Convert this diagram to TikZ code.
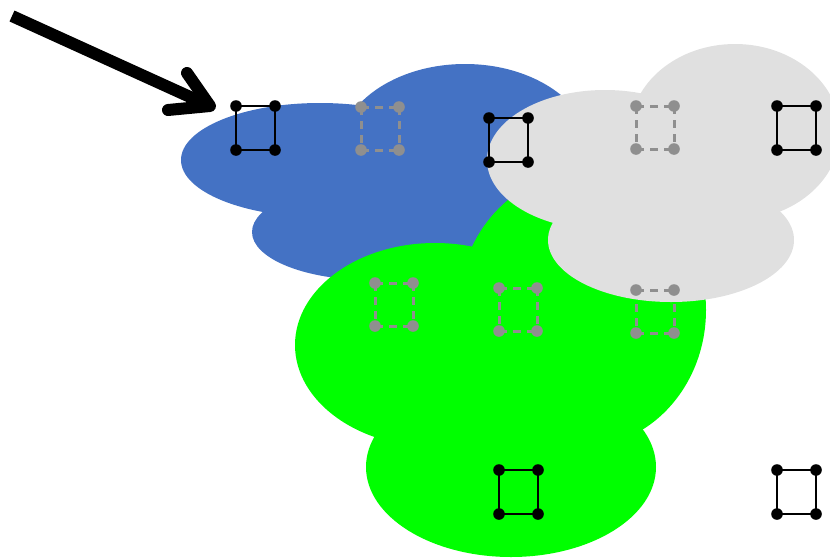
\documentclass[tikz,border=0pt]{standalone}
\usetikzlibrary{calc}
\definecolor{cblue}{HTML}{4472C4}
\definecolor{cgreen}{HTML}{00FF00}
\definecolor{cgray}{HTML}{E0E0E0}
\definecolor{dgray}{HTML}{8F8F8F}
\tikzset{
  bluecloud/.style={fill=cblue, draw=none},
  greencloud/.style={fill=cgreen, draw=none},
  graycloud/.style={fill=cgray, draw=none},
  solidedge/.style={draw=black, line width=2.9pt},
  dashedge/.style={draw=dgray, line width=3pt, dash pattern=on 8pt off 6pt},
  blkdot/.style={fill=black},
  grydot/.style={fill=dgray},
  blksq/.pic={
    \draw[solidedge] (0,0) -- (39,0) -- (39,44) -- (0,44) -- cycle;
    \foreach \p in {(0,0),(39,0),(39,44),(0,44)} \fill[blkdot] \p circle (5.8pt);
  },
  grysq/.pic={
    \draw[dashedge] (0,0) -- (38,0);
    \draw[dashedge] (38,0) -- (38,43);
    \draw[dashedge] (0,43) -- (38,43);
    \draw[dashedge] (0,0) -- (0,43);
    \foreach \p in {(0,0),(38,0),(38,43),(0,43)} \fill[grydot] \p circle (5.8pt);
  },
  grytop/.pic={
    \draw[dashedge] (0,0) -- (38,0);
    \foreach \p in {(0,0),(38,0)} \fill[grydot] \p circle (5.8pt);
  },
  arrowline/.style={draw=black, line width=12pt, line join=round}
}
\begin{document}
\begin{tikzpicture}[x=1pt,y=-1pt]
\useasboundingbox (0,0) rectangle (830,557);
% blue cloud
\fill[bluecloud] (320,160) ellipse [x radius=139, y radius=57];
\fill[bluecloud] (465,154) ellipse [x radius=127, y radius=90];
\fill[bluecloud] (370,232) ellipse [x radius=118, y radius=48];
% green cloud
\fill[greencloud] (435,345) ellipse [x radius=140, y radius=102];
\fill[greencloud] (582,310) ellipse [x radius=124, y radius=137];
\fill[greencloud] (511,467) ellipse [x radius=145, y radius=90];
% square partly under the gray cloud
\pic at (636,290) {grysq};
% gray cloud
\fill[graycloud] (605,160) ellipse [x radius=118, y radius=70];
\fill[graycloud] (735,132) ellipse [x radius=105, y radius=88];
\fill[graycloud] (671,240) ellipse [x radius=123, y radius=62];
\pic at (636,290) {grytop};
% squares
\pic at (236,106) {blksq};
\pic at (361,107) {grysq};
\pic at (489,118) {blksq};
\pic at (636,106) {grysq};
\pic at (777,106) {blksq};
\pic at (375,283) {grysq};
\pic at (499,288) {grysq};
\pic at (499,470) {blksq};
\pic at (777,470) {blksq};
% arrow
\coordinate (arrS) at (12,16);
\coordinate (arrT) at (210,106);
\coordinate (armA) at (187,73);
\coordinate (armB) at (168,110);
\draw[arrowline, line cap=butt] (arrS) -- ($(arrT)!3pt!(arrS)$);
\draw[arrowline, line cap=round] (armA) -- (arrT) -- (armB);
\end{tikzpicture}
\end{document}
